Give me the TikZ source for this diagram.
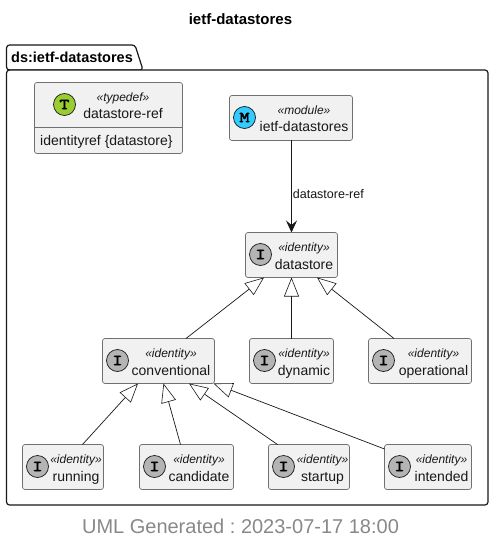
\documentclass[tikz,border=0pt]{standalone}
\usepackage{fontspec}
\setmainfont{Liberation Sans}
\setmonofont{Latin Modern Mono}[FakeBold=3.5,FakeStretch=1.3]
\usetikzlibrary{arrows.meta}
\definecolor{boxfill}{HTML}{F1F1F1}
\definecolor{ink}{HTML}{181818}
\definecolor{boxline}{HTML}{707070}
\definecolor{footgray}{HTML}{888888}
\definecolor{identgray}{HTML}{B4B4B4}
\definecolor{typegreen}{HTML}{9ACD32}
\definecolor{modblue}{HTML}{33CCFF}
\tikzset{
  umlbox/.style={draw=boxline,line width=0.7pt,fill=boxfill,rounded corners=2.5pt,inner sep=0pt,outer sep=0pt},
  badge/.style={circle,draw=ink,line width=0.7pt,minimum size=22pt,inner sep=0pt,font=\ttfamily\fontsize{15}{15}\selectfont},
  stereo/.style={anchor=base,inner sep=0pt,text=ink,font=\itshape\fontsize{12}{12}\selectfont},
  boxname/.style={anchor=base,inner sep=0pt,text=ink,font=\fontsize{14}{14}\selectfont},
  genarrow/.style={draw=ink,line width=0.7pt,-{Triangle[open,fill=white,length=19pt,width=15pt,line width=0.6pt]}},
  deparrow/.style={draw=ink,line width=0.8pt,-{Stealth[length=12pt,width=11pt,inset=4.5pt]}},
  pkgframe/.style={draw=ink,line width=1.2pt,fill=white,rounded corners=3pt},
}
% name, left, top, right, bottom, badge colour, letter, badge x, text x
\newcommand{\umlnode}[9]{%
  \node[umlbox,minimum width={(#4)*1pt-(#2)*1pt},minimum height={(#5)*1pt-(#3)*1pt}] (#1) at ({((#2)+(#4))/2},{((#3)+(#5))/2}) {};
  \node[badge,fill=#6] (#1badge) at (#8,{(#3)+22}) {#7};
  \node[stereo] (#1stereo) at (#9,{(#3)+19}) {\umlstereo};
  \node[boxname] (#1label) at (#9,{(#3)+36.5}) {\umllabel};
}
\newcommand{\umlstereo}{}
\newcommand{\umllabel}{}
\newcommand{\umlset}[2]{\renewcommand{\umlstereo}{«#1»}\renewcommand{\umllabel}{#2}}
\begin{document}
\frenchspacing
\begin{tikzpicture}[x=1pt,y=-1pt]
\useasboundingbox (0,0) rectangle (494,545);
\node[anchor=base,inner sep=0pt,font=\bfseries\fontsize{15}{15}\selectfont] (title) at (240.5,25) {ietf-datastores};
% package
\draw[pkgframe] (6.5,70) -- (6.5,45) -- (135,45) -- (143,70) -- cycle;
\draw[pkgframe] (6.5,70) -- (488,70) -- (488,505) -- (6.5,505) -- cycle;
\node[anchor=base west,inner sep=0pt,font=\bfseries\fontsize{14.5}{14.5}\selectfont] (pkg) at (11,63) {ds:ietf-datastores};
% typedef
\umlset{typedef}{datastore-ref}
\umlnode{tref}{34.5}{82.5}{182.5}{153.5}{typegreen}{T}{64.5}{123}
\draw[boxline,line width=0.7pt] (tref.west |- 0,127.5) coordinate (trefl) -- (tref.east |- 0,127.5) coordinate (trefr);
\node[anchor=base west,inner sep=0pt,text=ink,font=\fontsize{14}{14}\selectfont] (tfield) at (40,146) {identityref \{datastore\}};
% identities
\umlset{module}{ietf-datastores}
\umlnode{mod}{229.5}{95.5}{352.5}{140.5}{modblue}{M}{244.5}{304}
\umlset{identity}{datastore}
\umlnode{ds}{245.5}{232.5}{337.5}{277.5}{identgray}{I}{260.5}{304}
\umlset{identity}{conventional}
\umlnode{conv}{102.5}{338.5}{214.5}{383.5}{identgray}{I}{117.5}{171}
\umlset{identity}{dynamic}
\umlnode{dyn}{249.5}{338.5}{333.5}{383.5}{identgray}{I}{264.5}{304}
\umlset{identity}{operational}
\umlnode{oper}{368.5}{338.5}{471.5}{383.5}{identgray}{I}{383.5}{433.5}
\umlset{identity}{running}
\umlnode{run}{22.5}{444.5}{103.5}{489.5}{identgray}{I}{37.5}{76}
\umlset{identity}{candidate}
\umlnode{cand}{139.5}{444.5}{233.5}{489.5}{identgray}{I}{154.5}{199}
\umlset{identity}{startup}
\umlnode{start}{268.5}{444.5}{349.5}{489.5}{identgray}{I}{283.5}{322.5}
\umlset{identity}{intended}
\umlnode{intd}{384.5}{444.5}{471.5}{489.5}{identgray}{I}{399.5}{441.5}
% connectors
\draw[deparrow] (ds.north |- mod.south) -- node[pos=0.58,anchor=west,xshift=1pt,inner sep=0pt,text=ink,font=\fontsize{12.5}{12.5}\selectfont] (deplabel) {datastore-ref} (ds.north);
\draw[genarrow] ([xshift=27.5pt]conv.north) -- ([xshift=-27.5pt]ds.south);
\draw[genarrow] (ds.south |- dyn.north) -- (ds.south);
\draw[genarrow] ([xshift=-26pt]oper.north) -- ([xshift=25.5pt]ds.south);
\draw[genarrow] ([xshift=19.5pt]run.north) -- ([xshift=-20.5pt]conv.south);
\draw[genarrow] ([xshift=-6pt]cand.north) -- ([xshift=5pt]conv.south);
\draw[genarrow] ([xshift=-31.5pt]start.north) -- ([xshift=30.5pt]conv.south);
\draw[genarrow] ([yshift=18pt]intd.west) -- ([xshift=55pt]conv.south);
\node[anchor=base,inner sep=0pt,text=footgray,font=\fontsize{20}{20}\selectfont] (foot) at (240.5,533) {UML Generated : 2023-07-17 18:00};
\end{tikzpicture}
\end{document}
